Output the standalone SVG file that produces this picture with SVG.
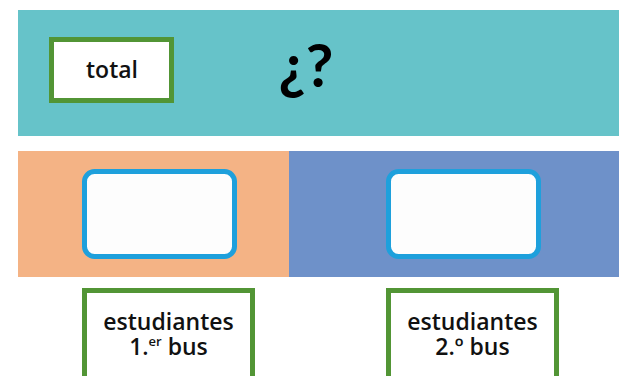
<svg xmlns="http://www.w3.org/2000/svg" width="619" height="376" viewBox="0 0 619 376">
<style>
.lbl{font-family:"Open Sans","Liberation Sans",sans-serif;font-weight:600;fill:#111;text-anchor:middle}
.gbox{fill:#fff;stroke:#529535;stroke-width:5}
.bbox{fill:#fdfdfd;stroke:#1ea0dc;stroke-width:5}
</style>
<rect width="619" height="376" fill="#fff"/>
<g id="band-total">
<rect x="18" y="10" width="601" height="126" fill="#66c3c9"/>
</g>
<g id="band-bus1"><rect x="18" y="151" width="271" height="126" fill="#f4b385"/></g>
<g id="band-bus2"><rect x="289" y="151" width="330" height="126" fill="#6e91c9"/></g>
<g id="node-total">
<rect class="gbox" x="51.5" y="39.5" width="120" height="61"/>
<text class="lbl" x="112" y="78" font-size="23">total</text>
</g>
<g id="node-question">
<text x="306" y="87" font-family="Lato,'Liberation Sans',sans-serif" font-weight="700" font-size="60" text-anchor="middle" fill="#000">¿?</text>
</g>
<g id="node-box1"><rect class="bbox" x="84.5" y="171.5" width="150" height="85" rx="10"/></g>
<g id="node-box2"><rect class="bbox" x="388.5" y="171.5" width="150" height="85" rx="10"/></g>
<g id="node-est1">
<rect class="gbox" x="84.5" y="290.5" width="168" height="100"/>
<text class="lbl" x="168.5" y="330" font-size="23">estudiantes</text>
<text class="lbl" x="168.5" y="355" font-size="23">1.<tspan font-size="13" dy="-9">er</tspan><tspan dy="9"> bus</tspan></text>
</g>
<g id="node-est2">
<rect class="gbox" x="388.5" y="290.5" width="168" height="100"/>
<text class="lbl" x="472.5" y="330" font-size="23">estudiantes</text>
<text class="lbl" x="472.5" y="355" font-size="23">2.º bus</text>
</g>
<g id="connectors"/>
</svg>
